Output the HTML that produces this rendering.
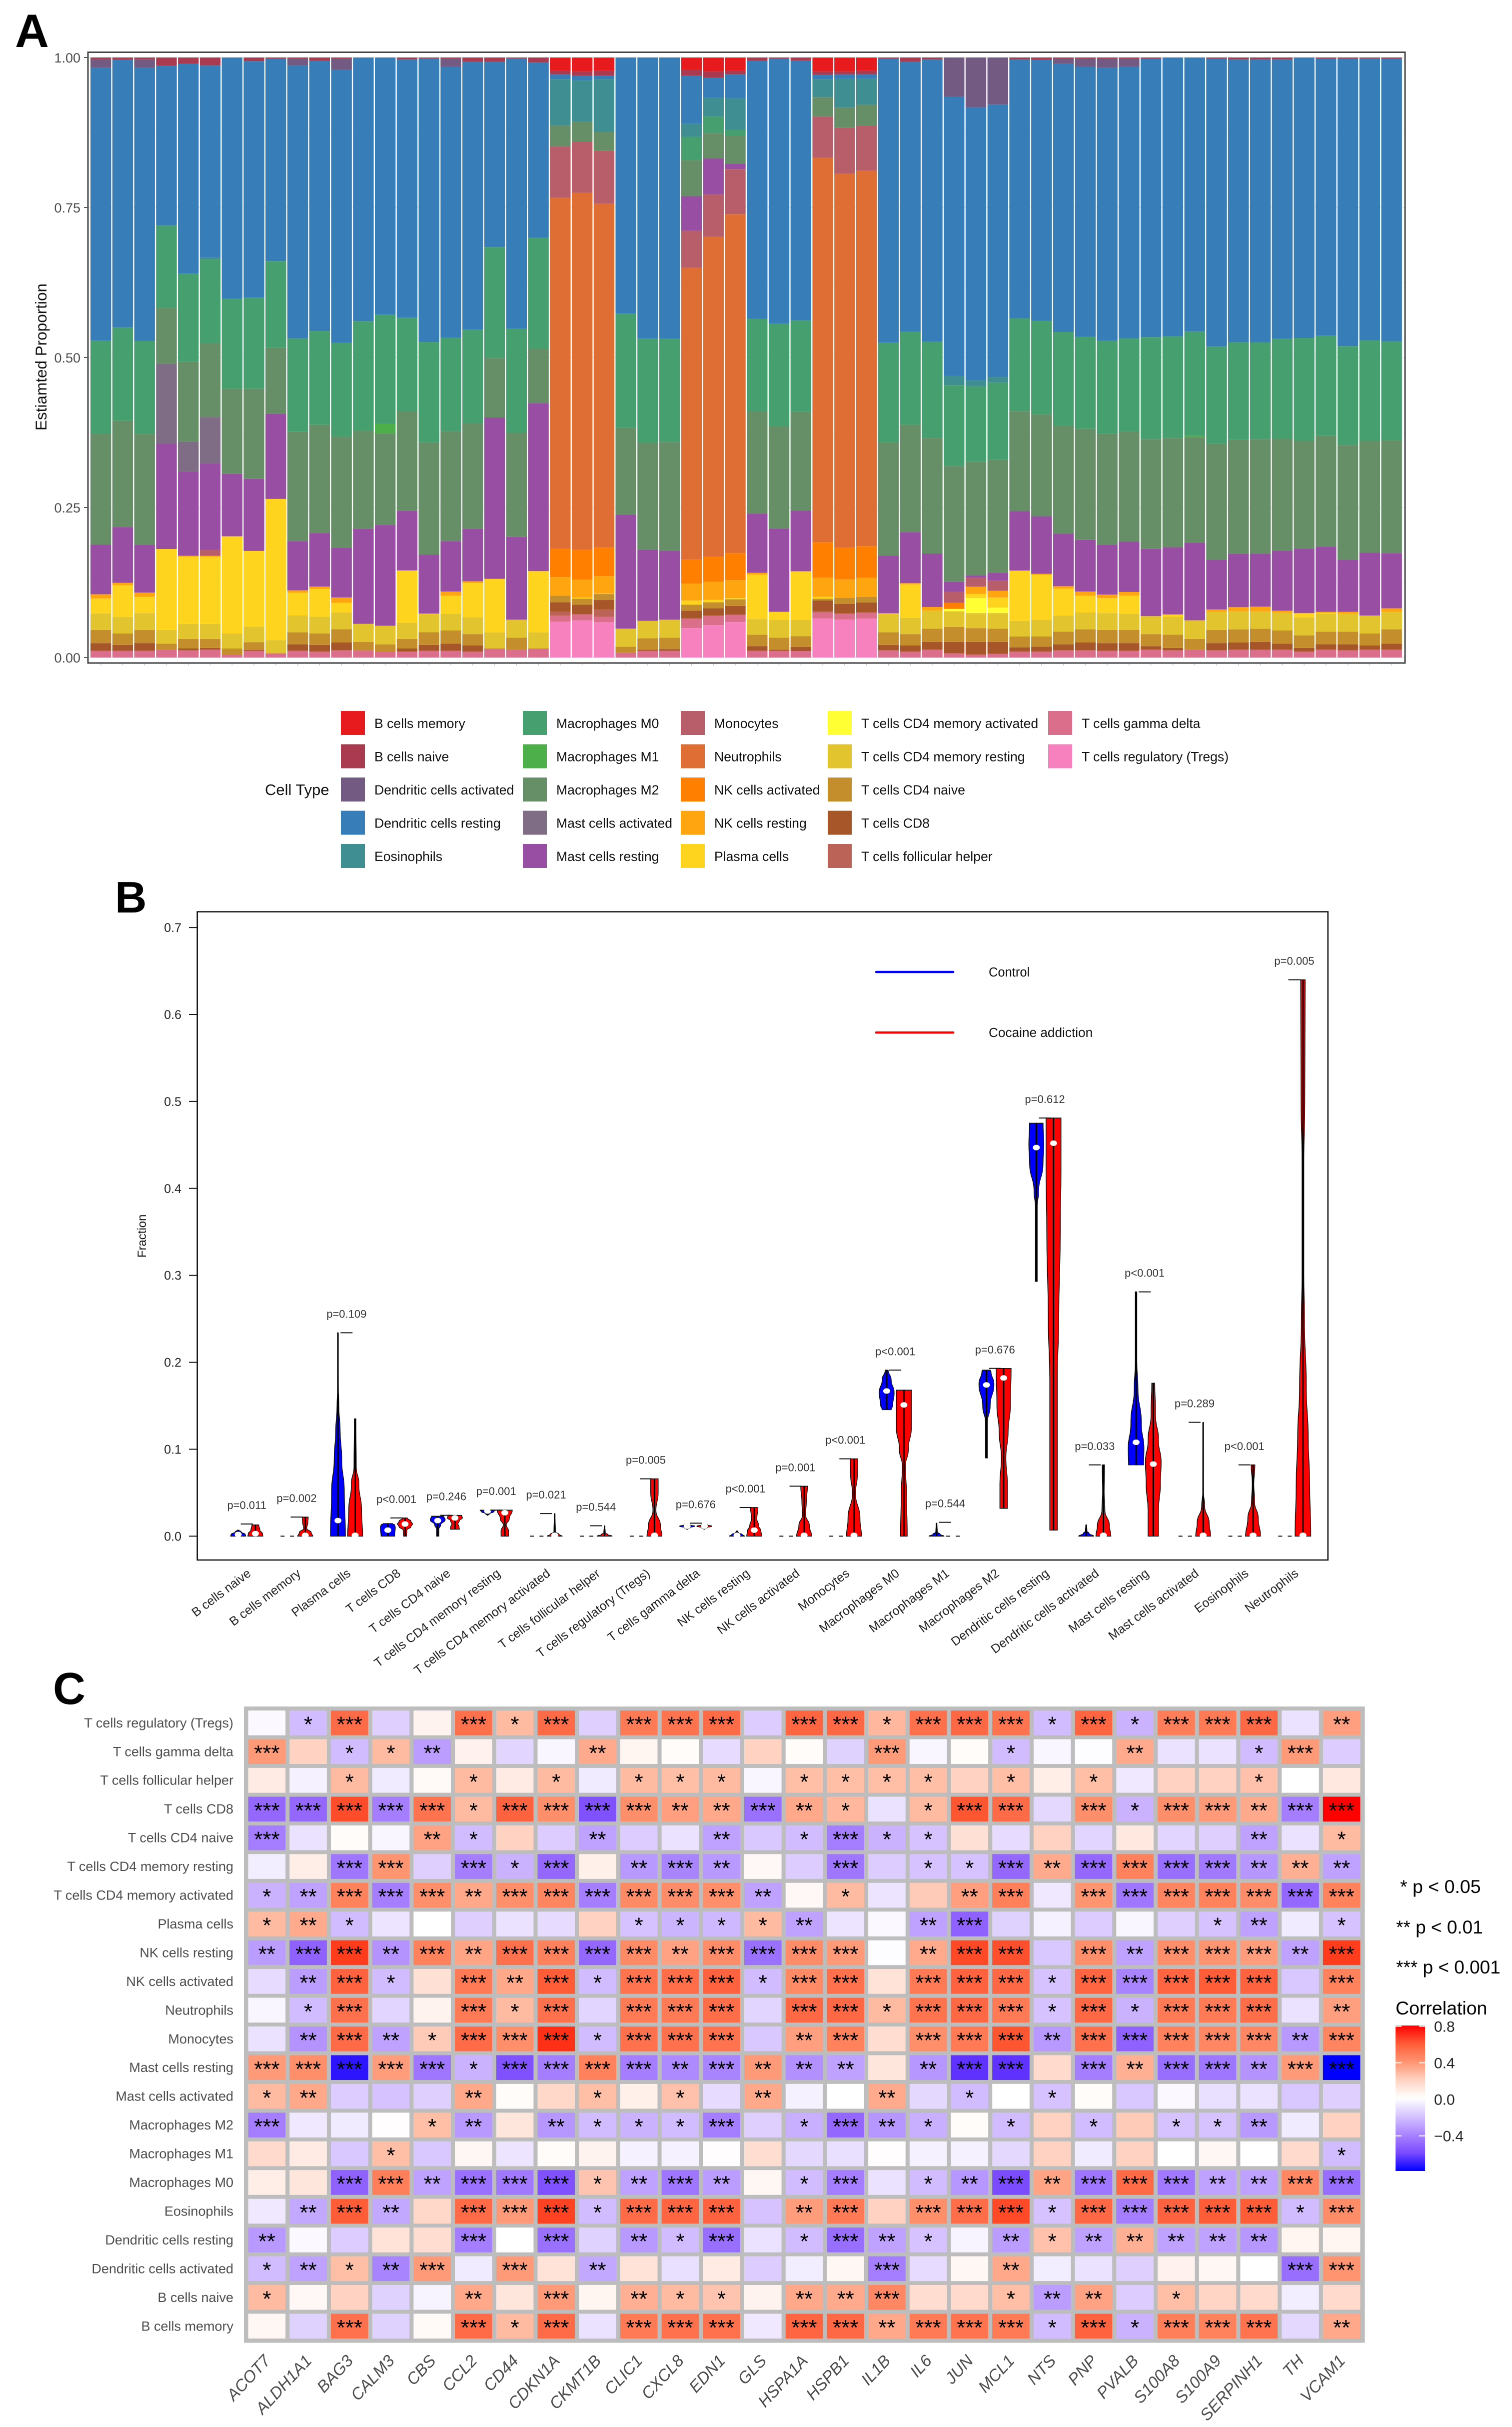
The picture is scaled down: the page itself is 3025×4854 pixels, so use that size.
<!DOCTYPE html>
<html lang="en">
<head>
<meta charset="utf-8">
<title>Immune cell infiltration figure</title>
<style>
html,body{margin:0;padding:0;background:#fff}
svg{display:block}
text{font-family:"Liberation Sans",sans-serif}
</style>
</head>
<body>
<svg id="fig" xmlns="http://www.w3.org/2000/svg" width="3025" height="4854" viewBox="0 0 3025 4854">
<defs>
<linearGradient id="corrGrad" x1="0" y1="0" x2="0" y2="1">
<stop offset="0" stop-color="#ff0000"/><stop offset=".125" stop-color="#ff5c38"/><stop offset=".25" stop-color="#ff9471"/><stop offset=".375" stop-color="#ffd2c2"/><stop offset=".5" stop-color="#ffffff"/><stop offset=".625" stop-color="#d5c2ff"/><stop offset=".75" stop-color="#a984ff"/><stop offset=".875" stop-color="#7a4bff"/><stop offset="1" stop-color="#0000ff"/>
</linearGradient>
</defs>
<text x="30" y="94" font-size="94" font-weight="bold">A</text>
<text x="230" y="1825" font-size="88" font-weight="bold">B</text>
<text x="106" y="3408" font-size="90" font-weight="bold">C</text>

<g id="panelA"></g>
<text x="0" y="0" transform="translate(93,714) rotate(-90)" text-anchor="middle" font-size="31.5" fill="#111">Estiamted Proportion</text>
<text x="530" y="1590" font-size="31" fill="#111">Cell Type</text>
<g id="legendA"></g>

<g id="panelB"></g>
<text x="0" y="0" transform="translate(292,2472) rotate(-90)" text-anchor="middle" font-size="24" fill="#111">Fraction</text>
<line x1="1753" y1="1944" x2="1907" y2="1944" stroke="#0000ff" stroke-width="4.5" stroke-linecap="round"/>
<text x="1978" y="1953" font-size="25.5" fill="#111">Control</text>
<line x1="1753" y1="2065" x2="1907" y2="2065" stroke="#ff0000" stroke-width="4.5" stroke-linecap="round"/>
<text x="1978" y="2074" font-size="26.2" fill="#111">Cocaine addiction</text>

<g id="panelC"></g>
<text x="2801" y="3786" font-size="37.5" fill="#000">* p &lt; 0.05</text>
<text x="2793" y="3867" font-size="37" fill="#000">** p &lt; 0.01</text>
<text x="2793" y="3947" font-size="37" fill="#000">*** p &lt; 0.001</text>
<text x="2792" y="4029" font-size="37.5" fill="#000">Correlation</text>
<rect x="2792" y="4051" width="59" height="291" fill="url(#corrGrad)"/>
<g id="colorbarTicks"></g>
</svg>

<script>
/* ---------- Panel A data: percent of each cell type per sample ---------- */
const tregs=[0,0,0,0,0,0,0,0,0,0, 0,0,0,0,0,0,0,0,0,0, 0,6,6.2,5.9,0,0,0,4.9,5.4,5.9, 0,0,0,6.5,6.3,6.5,0,0,0,0, 0,0,0,0,0,0,0,0,0,0, 0,0,0,0,0,0,0,0,0,0];
const gammaDelta=[1.1,1.1,1.1,1.3,1.2,1.3,.5,1.1,.7,1.1, 1,1.2,1.2,1,1,1.1,1.1,1,1.5,1.3, 1.5,1,1,.9,.8,1.1,1.1,1.6,1.6,1.2, 1.1,1.1,1.1,1,1,1,1.2,1,1.3,.7, .5,.6,1,1,1.2,1.2,1.1,1.1,1.3,1.2, 1.3,1.2,1.3,1.3,1.3,1,1.3,1.2,1.3,1.3];
const follicular=[0,0,0,0,0,0,0,0,0,0, 0,0,0,0,0,0,0,0,0,0, 0,.6,0,1.2,0,0,0,0,0,0, 0,0,0,.2,0,0,0,0,0,0, 0,0,0,0,0,0,0,0,0,0, 0,0,0,0,0,0,0,0,0,0];
const cd8=[1.3,1,1.3,0,.3,.3,0,.15,0,1.1, 1.1,1.3,0,0,.5,1,1.2,1,0,0, 0,1.6,1.6,1.6,0,.2,.3,1.3,1.2,1.5, .8,.2,.7,1.8,1.6,1.7,.9,1,1.3,1.9, 2.1,2,.7,.8,1,1.3,1.3,1.3,.6,.4, 0,1.2,1.2,1.3,1,.6,.9,1,.7,1];
const cd4Naive=[2.2,1.9,2.2,1,1.6,1.5,1,1.3,0,2, 1.9,2.2,1.4,1.2,1.6,2.1,2.2,1.9,0,2, 0,1.1,1,1,1,1.9,1.9,1,1,1.1, 1.9,2,1.8,.3,1,.9,2.1,1.9,2.2,2.5, 2.3,2.2,1.8,1.7,2.1,2.2,2.2,2.2,2,2.2, 1.8,2.2,2.2,2.2,2.2,2.1,2.1,2.1,2,2.4];
const cd4MemResting=[2.75,2.75,2.8,2.3,2.5,2.5,2.5,2.6,2.2,2.8, 2.8,2.8,3,3.1,2.7,3,2.8,2.8,2.7,3, 2.7,0,0,0,3,2.9,3,0,0,0, 2.6,3,2.8,0,0,0,3,2.7,3,2.6, 2.5,2.6,2.6,2.8,2.7,2.8,2.8,2.7,3,3, 3.1,3,3,2.9,3,3,3,3,3,2.9];
const cd4MemActivated=[0,0,0,0,0,0,0,0,0,0, 0,0,0,0,0,0,0,0,0,0, 0,0,0,0,0,0,0,0,0,0, 0,0,0,0,0,0,0,0,0,.4, 2.5,.9,0,0,0,0,0,0,0,0, 0,0,0,0,0,0,0,0,0,0];
const plasma=[2.5,5.3,2.7,13.5,11.2,11.2,16.2,12.6,23.5,3.8, 4.6,1.6,0,0,8.7,.1,3,5.7,8.9,0, 10.2,0,.2,.1,0,0,0,.7,.4,.2, 7.4,1.3,8.2,.3,0,0,.15,5.6,0,0, .7,1.7,8.4,7.5,4.5,2.8,2.5,3,0,.3, 0,0,0,0,0,.7,.15,0,0,0];
const nkResting=[.7,.4,.7,0,.15,.15,0,0,0,.4, .4,.9,0,0,0,0,.7,.3,0,0, 0,3.1,3,2.9,0,0,0,2.8,3,3, .3,0,0,3.2,3.1,3.2,0,.2,.6,0, 1.2,1.1,0,.15,.4,.7,.6,.6,0,.1, 0,.4,.7,.8,.3,0,.15,.3,0,.6];
const nkActivated=[0,0,0,0,0,0,0,0,0,0, 0,0,0,0,0,0,0,0,0,0, 0,4.7,5,4.8,0,0,0,4,4.2,4.5, 0,0,0,5.9,5.3,5.3,0,0,0,1, 0,0,0,0,0,0,0,0,0,0, 0,0,0,0,0,0,0,0,0,0];
const neutrophils=[0,0,0,0,0,0,0,0,0,0, 0,0,0,0,0,0,0,0,0,0, 0,58.5,59.5,57.4,0,0,0,48.6,53.3,56.5, 0,0,0,64,62.2,62.7,0,0,0,0, 0,0,0,0,0,0,0,0,0,0, 0,0,0,0,0,0,0,0,0,0];
const monocytes=[0,0,0,0,0,1,0,0,0,0, 0,0,0,0,0,0,0,0,0,0, 0,8.6,8.5,8.8,0,0,0,6.2,7.1,7.5, 0,0,0,6.9,7.6,7.5,0,0,0,1.9, 1.5,1.7,0,0,0,0,0,0,0,0, 0,0,0,0,0,0,0,0,0,0];
const mastResting=[8.3,9.3,8,17.6,14,14.4,10.4,12,14.2,8.2, 8.9,8.3,15.8,16.8,9.9,9.8,8.4,8.7,26.9,13.8, 28,0,0,0,19,11.8,11.5,5.7,6,.9, 9.9,13.9,10.3,0,0,0,9.6,8.5,8.9,1.6, .4,1.3,9.9,9.6,8.8,8.6,8.3,8.4,11.2,11.2, 12.9,8.3,8.9,8.9,10,10.8,10.9,8.7,10.5,9.2];
const mastActivated=[0,0,0,13.3,5,7.7,0,0,0,0, 0,0,0,0,0,0,0,0,0,0, 0,0,0,0,0,0,0,0,0,0, 0,0,0,0,0,0,0,0,0,0, 0,0,0,0,0,0,0,0,0,0, 0,0,0,0,0,0,0,0,0,0];
const macroM2=[18.5,17.7,18.4,9.3,13.3,12.3,14.2,15,11,18.2, 18,18.5,16.4,15.3,16.6,18.7,18.3,17.6,9.9,17.3, 9.1,3.5,3.3,3.2,14.4,17.9,18.1,6,4.2,4.7, 17,17,16.7,3.2,3.4,3.5,18.9,17.9,19.2,19.3, 18.9,18.8,16.7,17,18,18.5,18.5,18.3,18.3,18.2, 17.6,19.3,19,19.1,18.7,18,18.4,19.1,18.6,18.8];
const macroM1=[0,0,0,0,0,0,0,0,0,0, 0,0,0,1.6,0,0,0,0,0,0, 0,0,0,0,0,0,0,0,0,0, 0,0,0,0,0,0,0,0,0,0, 0,0,0,0,0,0,0,0,0,0, .2,0,0,0,0,0,0,0,0,0];
const macroM0=[15.5,15.6,15.5,13.8,14.7,14,15,15.2,14.4,15.6, 15.6,15.6,18.2,18.2,15.6,16.7,15.6,15.6,18.5,17.4, 18.5,0,0,0,19,17.3,17.2,3.9,2.8,1, 15.4,17.1,15.5,0,0,0,16.6,15.5,16,13.5, 12.6,12.9,15.5,15.6,15.6,15.4,15.5,15.5,17,17, 17.4,16.2,16.3,16.2,16.6,17.1,16.7,16.5,16.8,16.5];
const eosinophils=[0,0,0,0,0,.3,0,0,0,0, 0,0,0,0,0,0,0,0,0,0, 0,7.7,6.9,8.8,0,0,0,2.2,3.1,5.2, 0,0,0,3,4.8,4.4,0,0,0,1.6, 1,.9,0,0,0,0,0,0,0,0, 0,0,0,0,0,0,0,0,0,0];
const dcResting=[45.5,44.6,45.5,26.6,35,32,40.2,39.4,33.7,45.5, 45,45.5,43.9,42.9,43,47.2,45.2,44.6,30.9,45, 29.2,.8,.75,.6,42.6,46.8,46.9,8,3.3,4, 43,44.1,44,.7,.7,.7,47.3,45,47,46.5, 45.5,45.4,43.2,43.5,44.8,45,45.5,45.2,46.4,46.5, 45.6,47.9,47.2,47.3,46.6,46.8,46.1,47.9,47,47.1];
const dcActivated=[1.4,0,1.4,0,0,0,0,0,0,1.1, 0,1.8,0,0,0,0,1.3,0,0,0, 0,0,0,0,0,0,0,0,0,0, 0,0,0,0,0,0,0,0,0,6.5, 8.3,7.8,0,0,.8,1.3,1.5,1.3,0,0, 0,0,0,0,0,0,0,0,0,0];
const bNaive=[.3,.4,.3,1.4,1,1.3,0,.6,.2,.2, .5,.2,0,0,.3,.15,.2,.7,.7,.15, .8,.6,.75,.8,0,0,0,1,1.1,.6, .5,.2,.5,.6,.5,.6,.2,.7,.3,0, 0,0,.3,.4,.2,.2,.2,.2,.2,0, 0,.2,.3,.3,.3,0,.2,.2,.15,.2];
const bMemory=[0,0,0,0,0,0,0,0,0,0, 0,0,0,0,0,0,0,0,0,0, 0,2.2,2.3,2.2,0,0,0,2,2.3,2.2, 0,0,0,2.3,2.3,2.2,0,0,0,0, 0,0,0,0,0,0,0,0,0,0, 0,0,0,0,0,0,0,0,0,0];

/* stack order, bottom to top */
const stackSeries=[tregs,gammaDelta,follicular,cd8,cd4Naive,cd4MemResting,cd4MemActivated,plasma,nkResting,nkActivated,neutrophils,monocytes,mastResting,mastActivated,macroM2,macroM1,macroM0,eosinophils,dcResting,dcActivated,bNaive,bMemory];
const stackNames=["T cells regulatory (Tregs)","T cells gamma delta","T cells follicular helper","T cells CD8","T cells CD4 naive","T cells CD4 memory resting","T cells CD4 memory activated","Plasma cells","NK cells resting","NK cells activated","Neutrophils","Monocytes","Mast cells resting","Mast cells activated","Macrophages M2","Macrophages M1","Macrophages M0","Eosinophils","Dendritic cells resting","Dendritic cells activated","B cells naive","B cells memory"];
const stackColors=["#F781BF","#DB6E8B","#BC6357","#A65628","#C38E2B","#E2C52E","#FFFF33","#FFD41F","#FFA50F","#FF7F00","#DF6E35","#B85E6A","#984EA3","#7F6C85","#668E67","#4DAF4A","#459F6F","#3F8E91","#377EB8","#735A82","#A93A4F","#E71A1D"];
const propTicks=["0.00","0.25","0.50","0.75","1.00"];

/* legend reads in columns */
const legendColumns=[
 ["B cells memory","B cells naive","Dendritic cells activated","Dendritic cells resting","Eosinophils"],
 ["Macrophages M0","Macrophages M1","Macrophages M2","Mast cells activated","Mast cells resting"],
 ["Monocytes","Neutrophils","NK cells activated","NK cells resting","Plasma cells"],
 ["T cells CD4 memory activated","T cells CD4 memory resting","T cells CD4 naive","T cells CD8","T cells follicular helper"],
 ["T cells gamma delta","T cells regulatory (Tregs)"]];

/* ---------- Panel B data ---------- */
const violinGroups=["B cells naive","B cells memory","Plasma cells","T cells CD8","T cells CD4 naive","T cells CD4 memory resting","T cells CD4 memory activated","T cells follicular helper","T cells regulatory (Tregs)","T cells gamma delta","NK cells resting","NK cells activated","Monocytes","Macrophages M0","Macrophages M1","Macrophages M2","Dendritic cells resting","Dendritic cells activated","Mast cells resting","Mast cells activated","Eosinophils","Neutrophils"];
const pLabels=["p=0.011","p=0.002","p=0.109","p<0.001","p=0.246","p=0.001","p=0.021","p=0.544","p=0.005","p=0.676","p<0.001","p=0.001","p<0.001","p<0.001","p=0.544","p=0.676","p=0.612","p=0.033","p<0.001","p=0.289","p<0.001","p=0.005"];
const bracketTops=[.014,.022,.234,.021,.024,.03,.026,.012,.066,.015,.033,.0575,.089,.191,.016,.193,.481,.082,.281,.131,.082,.64];
const fractionTicks=[0,.1,.2,.3,.4,.5,.6,.7];
const controlMedians=[.002,null,.018,.007,.018,.029,null,null,null,.0115,.001,null,null,.167,null,.174,.447,null,.108,null,null,null];
const caseMedians=[.003,.001,.001,.014,.021,.027,.001,null,.001,.0115,.007,.001,.001,.151,null,.182,.452,.001,.083,.001,.001,.001];
/* each violin: [fraction, relative density] pairs */
const controlDensity=[
 [[0,1],[.002,.95],[.005,.4],[.007,.1]],
 [],
 [[0,1],[.05,.85],[.09,.5],[.12,.3],[.15,.12],[.17,.05],[.234,.03]],
 [[0,.9],[.01,1],[.013,.9],[.0145,.6]],
 [[0,.15],[.008,.15],[.013,.4],[.019,1],[.023,.8]],
 [[.024,.05],[.026,.3],[.028,.8],[.03,1]],
 [],[],[],
 [[.008,.05],[.01,.4],[.0115,1],[.013,.4],[.014,.05]],
 [[0,1],[.002,.7],[.004,.2],[.006,.05]],
 [],[],
 [[.1455,.6],[.15,.8],[.165,1],[.18,.6],[.191,.2]],
 [[0,1],[.002,.5],[.005,.1],[.015,.04]],
 [[.09,.12],[.13,.12],[.15,.5],[.175,1],[.19,.6],[.191,.5]],
 [[.293,.12],[.38,.12],[.395,.3],[.43,.9],[.45,1],[.475,.9]],
 [[0,1],[.003,.4],[.006,.1],[.013,.05]],
 [[.082,1],[.1,1.05],[.13,.7],[.17,.25],[.2,.1],[.281,.1]],
 [],[],[]];
const caseDensity=[
 [[0,1],[.003,.95],[.007,.6],[.013,.45]],
 [[0,1],[.004,.8],[.009,.2],[.016,.35],[.022,.4]],
 [[0,1],[.03,.85],[.06,.5],[.08,.15],[.135,.1]],
 [[0,.2],[.007,.25],[.011,.8],[.014,1],[.017,.8],[.021,.3]],
 [[.008,.6],[.011,.55],[.014,.4],[.018,.6],[.021,1],[.024,.9]],
 [[0,.5],[.006,.5],[.013,.2],[.02,.6],[.03,1]],
 [[0,1],[.002,.6],[.005,.1],[.026,.03]],
 [[0,1],[.002,.4],[.004,.1],[.012,.03]],
 [[0,1],[.012,.8],[.03,.2],[.05,.5],[.066,.5]],
 [[.008,.05],[.01,.4],[.0115,1],[.013,.4],[.014,.05]],
 [[0,1],[.006,.9],[.012,.6],[.02,.35],[.033,.5]],
 [[0,1],[.012,.7],[.025,.2],[.04,.3],[.0575,.45]],
 [[0,1],[.02,.8],[.05,.2],[.07,.45],[.089,.5]],
 [[0,.45],[.05,.35],[.08,.2],[.1,.6],[.125,1],[.168,1]],
 [],
 [[.032,.5],[.06,.5],[.09,.3],[.12,.6],[.15,.9],[.193,1]],
 [[.007,.5],[.18,.5],[.25,.7],[.35,.9],[.42,1],[.481,1]],
 [[0,1],[.012,.8],[.03,.2],[.05,.1],[.082,.15]],
 [[0,.7],[.03,.7],[.06,.95],[.085,1.05],[.11,.7],[.14,.3],[.176,.2]],
 [[0,1],[.015,.8],[.035,.2],[.05,.05],[.131,.03]],
 [[0,1],[.02,.7],[.04,.2],[.06,.1],[.082,.25]],
 [[0,1.05],[.06,.9],[.115,.7],[.17,.45],[.25,.2],[.3,.12],[.43,.12],[.5,.25],[.64,.3]]];

/* ---------- Panel C data ---------- */
const heatRows=["T cells regulatory (Tregs)","T cells gamma delta","T cells follicular helper","T cells CD8","T cells CD4 naive","T cells CD4 memory resting","T cells CD4 memory activated","Plasma cells","NK cells resting","NK cells activated","Neutrophils","Monocytes","Mast cells resting","Mast cells activated","Macrophages M2","Macrophages M1","Macrophages M0","Eosinophils","Dendritic cells resting","Dendritic cells activated","B cells naive","B cells memory"];
const heatCols=["ACOT7","ALDH1A1","BAG3","CALM3","CBS","CCL2","CD44","CDKN1A","CKMT1B","CLIC1","CXCL8","EDN1","GLS","HSPA1A","HSPB1","IL1B","IL6","JUN","MCL1","NTS","PNP","PVALB","S100A8","S100A9","SERPINH1","TH","VCAM1"];
const heatValues=[
[-.02,-.22,.55,-.16,.07,.53,.27,.55,-.16,.5,.52,.55,-.17,.57,.56,.28,.53,.56,.52,-.22,.57,-.25,.49,.5,.56,-.1,.36],
[.38,.2,-.22,.27,-.32,.08,-.14,-.03,.32,.06,.02,-.12,.2,.02,-.15,.38,-.03,.02,-.22,-.03,-.01,.32,-.1,-.1,-.22,.38,-.17],
[.11,-.05,.27,-.07,.03,.27,.11,.27,-.07,.27,.26,.27,-.03,.26,.26,.26,.26,.2,.26,.1,.26,-.08,.2,.2,.25,0,.12],
[-.5,-.5,.65,-.42,.52,.27,.58,.42,-.58,.42,.36,.33,-.47,.33,.28,-.1,.27,.62,.55,-.13,.42,-.25,.42,.38,.32,-.42,.8],
[-.42,-.1,.02,-.03,.35,-.22,.2,-.17,-.3,-.17,-.1,-.3,-.18,-.22,-.42,-.25,-.2,.15,-.12,.2,-.14,.12,-.14,-.16,-.3,-.1,.27],
[-.06,.1,-.45,.4,-.16,-.42,-.25,-.5,.09,-.33,-.4,-.33,.04,-.17,-.45,-.17,-.2,-.2,-.5,.32,-.5,.47,-.48,-.44,-.34,.3,-.3],
[-.25,-.3,.47,-.42,.42,.33,.42,.46,-.42,.44,.43,.42,-.3,.04,.27,-.09,.22,.36,.48,-.08,.4,-.45,.46,.47,.43,-.5,.47],
[.27,.32,-.22,-.09,0,-.16,-.1,-.12,.2,-.2,-.24,-.23,.27,-.3,-.09,-.02,-.3,-.52,-.15,-.05,-.17,-.03,-.16,-.2,-.3,-.07,-.2],
[-.32,-.52,.7,-.35,.47,.34,.53,.47,-.5,.44,.35,.43,-.47,.43,.38,-.01,.32,.66,.64,-.18,.42,-.3,.42,.4,.37,-.3,.7],
[-.12,-.32,.58,-.22,.15,.5,.33,.6,-.22,.52,.54,.58,-.22,.44,.53,.14,.5,.58,.56,-.2,.57,-.4,.57,.6,.58,-.18,.47],
[-.03,-.22,.53,-.14,.07,.5,.27,.53,-.14,.5,.5,.54,-.14,.56,.56,.27,.52,.56,.5,-.2,.56,-.25,.5,.5,.54,-.1,.36],
[-.1,-.35,.55,-.3,.22,.55,.42,.72,-.22,.53,.53,.52,-.18,.36,.47,.16,.42,.5,.62,-.33,.53,-.52,.47,.45,.45,-.33,.46],
[.38,.42,-.75,.37,-.45,-.25,-.58,-.42,.47,-.42,-.38,-.4,.38,-.36,-.3,.13,-.34,-.68,-.68,.17,-.42,.3,-.48,-.45,-.35,.38,-.8],
[.27,.33,-.17,-.2,-.16,.33,.02,.18,.26,.09,.25,-.12,.33,-.05,0,.32,-.13,-.22,0,-.2,.02,-.18,-.02,-.11,-.1,-.18,-.16],
[-.42,-.08,-.07,.01,.26,-.33,.13,-.34,-.22,-.25,-.22,-.42,-.16,-.26,-.5,-.34,-.26,.02,-.22,.2,-.22,.22,-.2,-.2,-.33,-.07,.2],
[.17,.11,-.18,.26,-.18,.05,-.09,.02,.07,-.05,-.05,.01,.16,-.13,-.11,.01,-.05,-.05,-.13,.2,-.07,.2,0,.05,0,.17,-.22],
[.1,.13,-.52,.48,-.3,-.47,-.44,-.58,.24,-.3,-.45,-.32,.05,-.22,-.42,-.1,-.22,-.34,-.6,.34,-.45,.55,-.44,-.3,-.3,.45,-.48],
[-.08,-.28,.6,-.28,.18,.55,.38,.68,-.22,.55,.57,.58,-.2,.37,.5,.2,.42,.54,.66,-.2,.56,-.42,.58,.6,.6,-.22,.43],
[-.33,-.02,-.17,.14,.16,-.42,0,-.47,-.15,-.33,-.22,-.48,-.1,-.22,-.48,-.3,-.2,-.04,-.32,.25,-.3,.3,-.3,-.3,-.34,.06,.06],
[-.22,-.3,.26,-.4,.38,-.07,.38,.14,-.28,.14,-.11,.11,-.17,-.06,.05,-.42,-.12,.05,.33,-.06,-.1,-.16,.08,.05,0,-.48,.4],
[.27,.04,.2,-.15,-.04,.33,.13,.38,.06,.3,.27,.24,.07,.33,.32,.45,.16,.17,.26,-.32,.35,-.17,.26,.19,.17,-.06,.17],
[.05,-.15,.53,-.15,.03,.55,.27,.55,-.1,.5,.53,.53,-.08,.57,.56,.33,.5,.52,.5,-.22,.58,-.25,.48,.47,.52,-.13,.33]];
const heatStars=[
"013003130333033133313133302",
"301120002000000300100200130",
"001001010111011110101000100",
"333331333322321013303133233",
"300021002002013110000000201",
"003303130232003011323333222",
"123332333333201002303333333",
"121000000111120023000001201",
"233232333323333023303233323",
"023103231333133033313333303",
"013003130333033133313133302",
"023213331333023033323333323",
"333331333323222023303233233",
"120002001010200201010000000",
"300012021113013210101011200",
"000100000000000000000000001",
"003323331232013012323332233",
"023203331333023033313333313",
"200003030213013210212222200",
"121230302000000300200000033",
"100002030211022300122010000",
"003003130333033233313133302"];
const colorbarTicks=[.8,.4,0,-.4];
const colorbarTickLabels=["0.8","0.4","0.0","\u22120.4"];

/* ---------- helpers ---------- */
const NS="http://www.w3.org/2000/svg";
function mk(parent,tag,attrs,txt){
  const el=document.createElementNS(NS,tag);
  for(const k in attrs) el.setAttribute(k,attrs[k]);
  if(txt!==undefined) el.textContent=txt;
  parent.appendChild(el);
  return el;
}
function slug(s){return s.toLowerCase().replace(/[^a-z0-9]+/g,'-').replace(/^-|-$/g,'');}

/* ---------- Panel A ---------- */
const gA=document.getElementById('panelA');
const A={left:176,right:2811,top:104.5,bottom:1326};
const yA=v=>1315-1200*v;
const xA=i=>181+43.77*i;
const barW=41.4;
for(const v of [0,.125,.25,.375,.5,.625,.75,.875,1]){
  const el=mk(gA,'line',{x1:A.left,x2:A.right,y1:yA(v),y2:yA(v),stroke:'#ebebeb','stroke-width':v*8%2===0?2:1});
  
  
}
const nSamples=stackSeries[0].length;
for(let i=0;i<nSamples;i++){
  let total=0;
  for(const s of stackSeries) total+=s[i];
  let cum=0;
  stackSeries.forEach((s,k)=>{
    if(s[i]<=0) return;
    const lo=cum/total; cum+=s[i]; const hi=cum/total;
    const el=mk(gA,'rect',{x:xA(i),y:yA(hi),width:barW,height:yA(lo)-yA(hi),fill:stackColors[k]});
    
    
  });
  const t=mk(gA,'line',{x1:xA(i)+barW/2,x2:xA(i)+barW/2,y1:A.bottom,y2:A.bottom+5,stroke:'#c4c4c4','stroke-width':1.5});
  
  
}
const frameA=mk(gA,'rect',{x:A.left,y:A.top,width:A.right-A.left,height:A.bottom-A.top,fill:'none',stroke:'#444','stroke-width':3});


propTicks.forEach(lbl=>{
  const v=parseFloat(lbl);
  const t=mk(gA,'line',{x1:168,x2:A.left,y1:yA(v),y2:yA(v),stroke:'#555','stroke-width':2});
  
  
  const x=mk(gA,'text',{x:161,y:yA(v)+10,'text-anchor':'end','font-size':27,fill:'#4d4d4d'},lbl);
  
  
});

/* legend A */
const gL=document.getElementById('legendA');
const legendSwatchX=[682,1046,1362,1656,2097];
legendColumns.forEach((col,c)=>{
  col.forEach((name,r)=>{
    const cy=1446+66.5*r;
    const sw=mk(gL,'rect',{x:legendSwatchX[c],y:cy-24,width:48,height:48,fill:stackColors[stackNames.indexOf(name)]});
    
    
    const tx=mk(gL,'text',{x:legendSwatchX[c]+67,y:cy+10,'font-size':26.6,fill:'#111'},name);
    
    
  });
});

/* ---------- Panel B ---------- */
const gB=document.getElementById('panelB');
const yB=v=>3072.4-1739*v;
const xB=i=>493.7+99.8*i;
const violinOffset=17.2, violinHalf=15;
const frameB=mk(gB,'rect',{x:394.7,y:1823.5,width:2262,height:1296.5,fill:'none',stroke:'#111','stroke-width':2.5});


fractionTicks.forEach(v=>{
  const t=mk(gB,'line',{x1:378,x2:394.7,y1:yB(v),y2:yB(v),stroke:'#111','stroke-width':2});
  
  
  const x=mk(gB,'text',{x:363,y:yB(v)+9,'text-anchor':'end','font-size':25,fill:'#222'},v.toFixed(1));
  
  
});
function violinPath(cx,prof){
  const L=prof.map(p=>[cx-p[1]*violinHalf,yB(p[0])]);
  const R=prof.map(p=>[cx+p[1]*violinHalf,yB(p[0])]).reverse();
  let d='M'+L[0][0]+' '+L[0][1];
  const seg=pts=>{for(let i=1;i<pts.length;i++){const ym=(pts[i-1][1]+pts[i][1])/2;d+=' C'+pts[i-1][0]+' '+ym+' '+pts[i][0]+' '+ym+' '+pts[i][0]+' '+pts[i][1];}};
  seg(L);
  d+=' L'+R[0][0]+' '+R[0][1];
  seg(R);
  return d+'Z';
}
function drawViolin(i,cx,prof,median,color,label){
  if(prof.length===0){
    const dash=mk(gB,'line',{x1:cx-15,x2:cx+15,y1:yB(0),y2:yB(0),stroke:'#111','stroke-width':2,'stroke-dasharray':'8 11'});
    
    
    return;
  }
  const p=mk(gB,'path',{d:violinPath(cx,prof),fill:color,stroke:'#111','stroke-width':1.5});
  
  
  const w=mk(gB,'line',{x1:cx,x2:cx,y1:yB(prof[0][0]),y2:yB(prof[prof.length-1][0]),stroke:'#000','stroke-width':3});
  
  
  if(median!==null){
    const m=mk(gB,'ellipse',{cx:cx,cy:yB(median),rx:7,ry:5.5,fill:'#fff'});
    
    
  }
}
violinGroups.forEach((name,i)=>{
  const cx=xB(i);
  drawViolin(i,cx-violinOffset,controlDensity[i],controlMedians[i],'#0000ff','control');
  drawViolin(i,cx+violinOffset,caseDensity[i],caseMedians[i],'#ff0000','cocaine');
  const top=yB(bracketTops[i]);
  const b=mk(gB,'line',{x1:cx-12,x2:cx+12,y1:top,y2:top,stroke:'#111','stroke-width':2});
  
  
  const pl=mk(gB,'text',{x:cx,y:top-30,'text-anchor':'middle','font-size':22,fill:'#333'},pLabels[i]);
  
  
  const xl=mk(gB,'text',{transform:'translate('+(cx+10)+',3150) rotate(-37)','text-anchor':'end','font-size':25,fill:'#222'},name);
  
  
});

/* ---------- Panel C ---------- */
const gC=document.getElementById('panelC');
const posStops=[[0,'#ffffff'],[.1,'#ffeee8'],[.2,'#ffd2c2'],[.3,'#ffb094'],[.4,'#ff9471'],[.5,'#ff7a55'],[.6,'#ff5c38'],[.7,'#ff3c1c'],[.8,'#ff0000']];
const negStops=[[0,'#ffffff'],[.1,'#ebe2ff'],[.2,'#d5c2ff'],[.3,'#bfa2ff'],[.4,'#a984ff'],[.5,'#9468ff'],[.6,'#7a4bff'],[.7,'#5a2cff'],[.8,'#0000ff']];
function hex(c){return [1,3,5].map(i=>parseInt(c.substr(i,2),16));}
function corrColor(v){
  const st=v>=0?posStops:negStops, a=Math.min(Math.abs(v),.8);
  for(let i=1;i<st.length;i++){
    if(a<=st[i][0]+1e-9){
      const t=(a-st[i-1][0])/(st[i][0]-st[i-1][0]),c0=hex(st[i-1][1]),c1=hex(st[i][1]);
      return 'rgb('+c0.map((c,k)=>Math.round(c+(c1[k]-c)*t)).join(',')+')';
    }
  }
  return st[st.length-1][1];
}
const xC=c=>496.6+82.7*c, yC=r=>3421+57.45*r, cellW=74.6, cellH=49.6;
const bgC=mk(gC,'rect',{x:488,y:3413,width:2242.6,height:1272.6,fill:'#bdbdbd'});


heatRows.forEach((rowName,r)=>{
  const yl=mk(gC,'text',{x:467,y:yC(r)+cellH/2+9,'text-anchor':'end','font-size':27,fill:'#4d4d4d'},rowName);
  
  
  heatCols.forEach((colName,c)=>{
    const cell=mk(gC,'rect',{x:xC(c),y:yC(r),width:cellW,height:cellH,fill:corrColor(heatValues[r][c])});
    
    
    const n=+heatStars[r][c];
    if(n>0){
      const st=mk(gC,'text',{x:xC(c)+cellW/2,y:yC(r)+42.5,'text-anchor':'middle','font-size':44,fill:'#000'},'*'.repeat(n));
      
      
    }
  });
});
heatCols.forEach((colName,c)=>{
  const xl=mk(gC,'text',{transform:'translate('+(xC(c)+cellW/2+9)+',4723) rotate(-47)','text-anchor':'end','font-size':33,'font-style':'italic',fill:'#4d4d4d'},colName);
  
  
});

/* colorbar */
const gT=document.getElementById('colorbarTicks');
const yBar=v=>4198.6-182.75*v;
colorbarTicks.forEach((v,i)=>{
  const a=mk(gT,'line',{x1:2792,x2:2804,y1:yBar(v),y2:yBar(v),stroke:'#fff','stroke-width':2});
  
  
  const b=mk(gT,'line',{x1:2839,x2:2851,y1:yBar(v),y2:yBar(v),stroke:'#fff','stroke-width':2});
  
  
  const t=mk(gT,'text',{x:2869,y:yBar(v)+11,'font-size':30,fill:'#222'},colorbarTickLabels[i]);
  
  
});
</script>
</body>
</html>
